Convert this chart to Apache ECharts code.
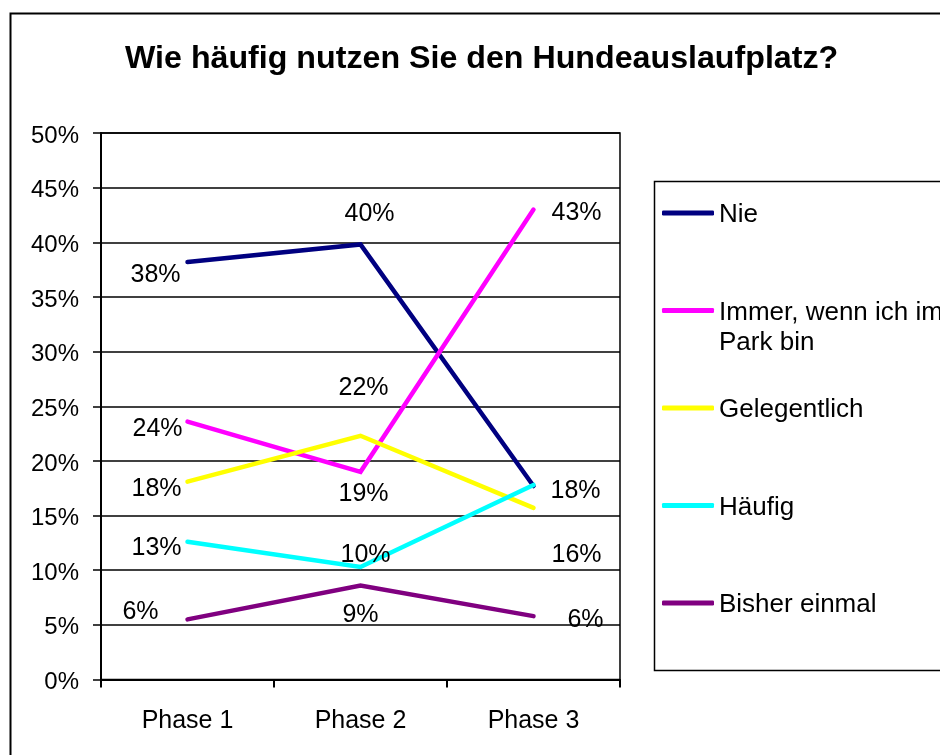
<!DOCTYPE html>
<html>
<head>
<meta charset="utf-8">
<script src="https://cdn.jsdelivr.net/npm/echarts@6/dist/echarts.min.js"></script>
<style>html,body{margin:0;padding:0;background:#fff;}#c{width:940px;height:755px;}</style>
</head>
<body>
<div id="c"></div>
<script>
const categories = ['Phase 1', 'Phase 2', 'Phase 3'];
const seriesNames = ['Nie', 'Immer, wenn ich im Park bin', 'Gelegentlich', 'Häufig', 'Bisher einmal'];
const nie = [38.2, 39.8, 17.7];
const immer = [23.6, 19.0, 43.0];
const gelegentlich = [18.1, 22.3, 15.7];
const haeufig = [12.6, 10.3, 17.8];
const bisherEinmal = [5.5, 8.6, 5.8];
const yTicks = [0, 5, 10, 15, 20, 25, 30, 35, 40, 45, 50];

const values = [nie, immer, gelegentlich, haeufig, bisherEinmal];
const colors = ['#000080', '#FF00FF', '#FFFF00', '#00FFFF', '#800080'];
// label offsets (styling only)
const labelOffsets = [
  [[-32, 13], [9, -30], [42, 5]],
  [[-30, 8], [3, 22], [43, 4]],
  [[-31, 7], [3, -48], [43, 47]],
  [[-31, 6], [5, -12], null],
  [[-47, -7], [0, 30], [52, 4]]
];
const FONT = 'Liberation Sans, Arial, sans-serif';

const series = values.map((vals, si) => ({
  name: seriesNames[si],
  type: 'line',
  symbol: 'circle',
  symbolSize: 0.5,
  color: colors[si],
  lineStyle: { width: 4.5, color: colors[si], cap: 'round', join: 'miter' },
  itemStyle: { color: colors[si] },
  emphasis: { disabled: true },
  z: 2 + si,
  data: vals.map((v, i) => {
    const off = labelOffsets[si][i];
    return {
      value: v,
      label: off ? { show: true, offset: off } : { show: false }
    };
  }),
  label: {
    show: true,
    position: 'inside',
    color: '#000',
    fontSize: 25,
    fontFamily: FONT,
    formatter: p => Math.round(p.value) + '%'
  }
}));

const chart = echarts.init(document.getElementById('c'), null, { renderer: 'canvas' });
chart.setOption({
  animation: false,
  backgroundColor: '#fff',
  title: {
    text: 'Wie häufig nutzen Sie den Hundeauslaufplatz?',
    left: 125,
    top: 41,
    padding: 0,
    textStyle: { fontSize: 32.2, fontWeight: 'bold', fontFamily: FONT, color: '#000', lineHeight: 36 }
  },
  legend: {
    orient: 'vertical',
    left: 662,
    top: 168,
    padding: 0,
    itemGap: 7.5,
    itemWidth: 52,
    itemHeight: 5,
    icon: 'roundRect',
    selectedMode: false,
    data: seriesNames,
    formatter: name => name === 'Immer, wenn ich im Park bin'
      ? '{s| }\n{a|Immer, wenn ich im}\n{a|Park bin}'
      : '{s| }\n{a|' + name + '}\n{s| }',
    textStyle: {
      fontSize: 26, fontFamily: FONT, color: '#000', lineHeight: 30,
      rich: {
        s: { fontSize: 26, fontFamily: FONT, lineHeight: 30 },
        a: { fontSize: 26, fontFamily: FONT, color: '#000', lineHeight: 30, verticalAlign: 'bottom' }
      }
    }
  },
  grid: {
    left: 101, right: 320, top: 133, bottom: 75.5,
    show: true, borderColor: '#000', borderWidth: 1.5, backgroundColor: 'transparent'
  },
  xAxis: {
    type: 'category',
    data: categories,
    boundaryGap: true,
    axisLine: { lineStyle: { color: '#000', width: 2 } },
    axisTick: { show: true, length: 8, lineStyle: { color: '#000', width: 2 } },
    axisLabel: { color: '#000', fontSize: 25, fontFamily: FONT, margin: 29 },
    splitLine: { show: false }
  },
  yAxis: {
    type: 'value',
    min: yTicks[0],
    max: yTicks[yTicks.length - 1],
    interval: yTicks[1] - yTicks[0],
    axisLine: { show: true, lineStyle: { color: '#000', width: 2 } },
    axisTick: { show: true, length: 8, lineStyle: { color: '#000', width: 1.5 } },
    axisLabel: {
      color: '#000', fontSize: 24, fontFamily: FONT, margin: 22,
      formatter: '{a|{value}%}',
      rich: { a: { color: '#000', fontSize: 24, fontFamily: FONT, padding: [6, 0, 0, 0] } }
    },
    splitLine: { show: true, lineStyle: { color: '#000', width: 1.5 } }
  },
  graphic: [
    { type: 'rect', left: 8, top: 11, z: -10, silent: true,
      shape: { width: 1000, height: 1000 },
      style: { fill: 'none', stroke: '#000', lineWidth: 2 } },
    { type: 'rect', left: 652, top: 179, z: -10, silent: true,
      shape: { width: 400, height: 489 },
      style: { fill: 'none', stroke: '#000', lineWidth: 1.5 } }
  ],
  series: series
});
</script>
</body>
</html>
